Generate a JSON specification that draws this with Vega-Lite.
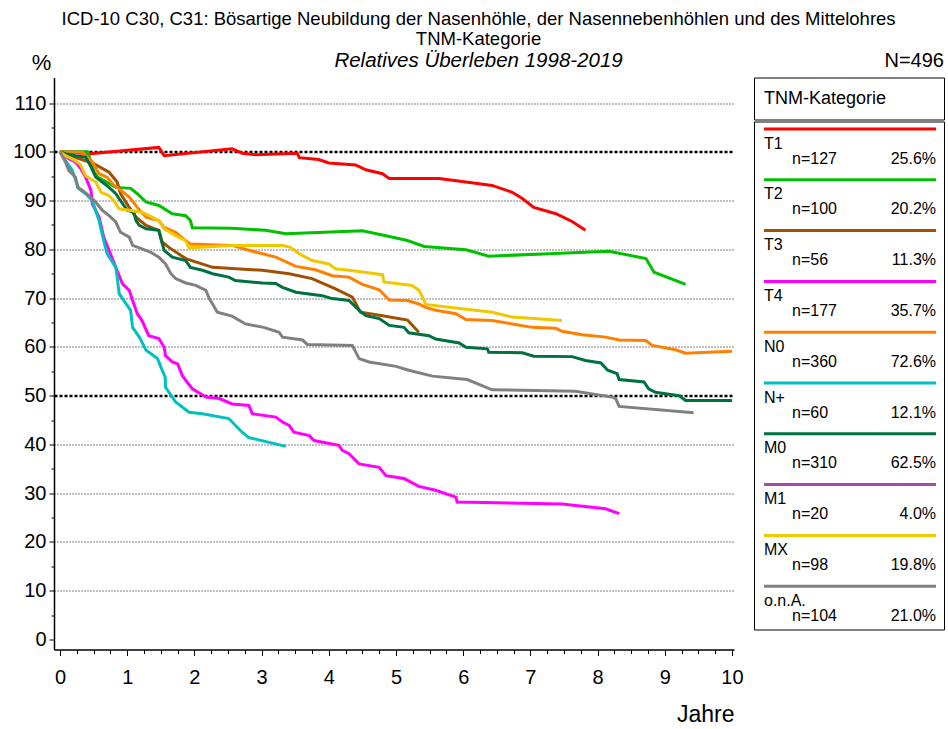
{
  "$schema": "https://vega.github.io/schema/vega-lite/v6.json",
  "padding": {"left": 12, "top": 9.5, "right": 2, "bottom": 2},
  "config": {"font": "Liberation Sans", "view": {"stroke": null}, "text": {"color": "black"}},
  "title": {
    "text": ["ICD-10 C30, C31: Bösartige Neubildung der Nasenhöhle, der Nasennebenhöhlen und des Mittelohres", "TNM-Kategorie"],
    "subtitle": "Relatives Überleben 1998-2019",
    "fontSize": 18.5, "fontWeight": "normal", "color": "black", "lineHeight": 20,
    "subtitleFontSize": 20.5, "subtitleFontStyle": "italic", "subtitleColor": "black", "subtitlePadding": 3,
    "anchor": "middle", "frame": "bounds", "offset": -21
  },
  "bounds": "flush",
  "spacing": 20,
  "datasets": {
    "curves": [
      {"k":"T1","t":0,"s":100},{"k":"T1","t":0.45,"s":99.6},{"k":"T1","t":1.47,"s":100.9},{"k":"T1","t":1.55,"s":99.2},{"k":"T1","t":2.56,"s":100.6},{"k":"T1","t":2.71,"s":99.7},{"k":"T1","t":2.91,"s":99.4},{"k":"T1","t":3.53,"s":99.7},{"k":"T1","t":3.56,"s":98.8},{"k":"T1","t":3.85,"s":98.4},{"k":"T1","t":4.0,"s":97.7},{"k":"T1","t":4.4,"s":97.3},{"k":"T1","t":4.55,"s":96.3},{"k":"T1","t":4.8,"s":95.5},{"k":"T1","t":4.9,"s":94.5},{"k":"T1","t":5.64,"s":94.5},{"k":"T1","t":6.04,"s":93.8},{"k":"T1","t":6.43,"s":93.1},{"k":"T1","t":6.73,"s":91.7},{"k":"T1","t":6.88,"s":90.4},{"k":"T1","t":7.05,"s":88.6},{"k":"T1","t":7.38,"s":87.3},{"k":"T1","t":7.62,"s":85.7},{"k":"T1","t":7.82,"s":83.9},
      {"k":"T2","t":0,"s":100},{"k":"T2","t":0.41,"s":100},{"k":"T2","t":0.51,"s":95.8},{"k":"T2","t":0.56,"s":94.8},{"k":"T2","t":0.83,"s":92.7},{"k":"T2","t":1.05,"s":92.5},{"k":"T2","t":1.15,"s":91.4},{"k":"T2","t":1.28,"s":89.7},{"k":"T2","t":1.47,"s":89.0},{"k":"T2","t":1.67,"s":87.3},{"k":"T2","t":1.87,"s":86.9},{"k":"T2","t":1.94,"s":85.9},{"k":"T2","t":1.97,"s":84.4},{"k":"T2","t":2.56,"s":84.3},{"k":"T2","t":3.06,"s":83.9},{"k":"T2","t":3.36,"s":83.2},{"k":"T2","t":4.5,"s":83.8},{"k":"T2","t":4.85,"s":82.8},{"k":"T2","t":5.17,"s":81.8},{"k":"T2","t":5.42,"s":80.6},{"k":"T2","t":6.04,"s":79.9},{"k":"T2","t":6.38,"s":78.6},{"k":"T2","t":7.28,"s":79.1},{"k":"T2","t":8.17,"s":79.6},{"k":"T2","t":8.72,"s":78.1},{"k":"T2","t":8.84,"s":75.3},{"k":"T2","t":9.31,"s":72.8},
      {"k":"T3","t":0,"s":100},{"k":"T3","t":0.28,"s":98.6},{"k":"T3","t":0.48,"s":97.7},{"k":"T3","t":0.73,"s":95.8},{"k":"T3","t":0.85,"s":93.8},{"k":"T3","t":0.9,"s":91.4},{"k":"T3","t":1.03,"s":88.6},{"k":"T3","t":1.13,"s":86.6},{"k":"T3","t":1.28,"s":84.9},{"k":"T3","t":1.47,"s":83.9},{"k":"T3","t":1.52,"s":81.5},{"k":"T3","t":1.62,"s":80.4},{"k":"T3","t":1.87,"s":78.1},{"k":"T3","t":2.27,"s":76.3},{"k":"T3","t":3.01,"s":75.7},{"k":"T3","t":3.41,"s":75.0},{"k":"T3","t":3.75,"s":74.0},{"k":"T3","t":4.1,"s":71.9},{"k":"T3","t":4.35,"s":70.2},{"k":"T3","t":4.47,"s":67.1},{"k":"T3","t":4.8,"s":66.4},{"k":"T3","t":5.17,"s":65.5},{"k":"T3","t":5.34,"s":63.0},
      {"k":"T4","t":0,"s":100},{"k":"T4","t":0.13,"s":98.6},{"k":"T4","t":0.23,"s":97.9},{"k":"T4","t":0.31,"s":96.5},{"k":"T4","t":0.38,"s":94.8},{"k":"T4","t":0.46,"s":92.1},{"k":"T4","t":0.48,"s":89.3},{"k":"T4","t":0.58,"s":86.6},{"k":"T4","t":0.65,"s":82.5},{"k":"T4","t":0.75,"s":79.1},{"k":"T4","t":0.83,"s":76.3},{"k":"T4","t":0.93,"s":72.9},{"k":"T4","t":1.03,"s":71.6},{"k":"T4","t":1.08,"s":69.5},{"k":"T4","t":1.15,"s":66.8},{"k":"T4","t":1.22,"s":65.4},{"k":"T4","t":1.32,"s":62.3},{"k":"T4","t":1.47,"s":61.7},{"k":"T4","t":1.55,"s":59.9},{"k":"T4","t":1.57,"s":58.2},{"k":"T4","t":1.67,"s":56.9},{"k":"T4","t":1.75,"s":56.5},{"k":"T4","t":1.82,"s":54.1},{"k":"T4","t":1.89,"s":52.8},{"k":"T4","t":1.97,"s":51.4},{"k":"T4","t":2.09,"s":50.4},{"k":"T4","t":2.17,"s":49.7},{"k":"T4","t":2.37,"s":49.4},{"k":"T4","t":2.56,"s":48.3},{"k":"T4","t":2.81,"s":48.0},{"k":"T4","t":2.86,"s":46.3},{"k":"T4","t":3.21,"s":45.6},{"k":"T4","t":3.31,"s":44.6},{"k":"T4","t":3.41,"s":43.9},{"k":"T4","t":3.48,"s":42.5},{"k":"T4","t":3.71,"s":41.8},{"k":"T4","t":3.78,"s":40.8},{"k":"T4","t":4.15,"s":39.8},{"k":"T4","t":4.2,"s":38.8},{"k":"T4","t":4.3,"s":38.1},{"k":"T4","t":4.45,"s":36.0},{"k":"T4","t":4.75,"s":35.3},{"k":"T4","t":4.85,"s":33.6},{"k":"T4","t":5.12,"s":33.0},{"k":"T4","t":5.34,"s":31.4},{"k":"T4","t":5.59,"s":30.6},{"k":"T4","t":5.89,"s":29.2},{"k":"T4","t":5.91,"s":28.2},{"k":"T4","t":7.47,"s":27.8},{"k":"T4","t":8.12,"s":26.8},{"k":"T4","t":8.32,"s":25.8},
      {"k":"N0","t":0,"s":100},{"k":"N0","t":0.33,"s":99.9},{"k":"N0","t":0.48,"s":97.9},{"k":"N0","t":0.58,"s":95.5},{"k":"N0","t":0.7,"s":94.8},{"k":"N0","t":0.78,"s":93.4},{"k":"N0","t":0.88,"s":92.4},{"k":"N0","t":1.03,"s":90.7},{"k":"N0","t":1.15,"s":88.6},{"k":"N0","t":1.28,"s":86.6},{"k":"N0","t":1.47,"s":85.9},{"k":"N0","t":1.55,"s":84.5},{"k":"N0","t":1.72,"s":83.5},{"k":"N0","t":1.87,"s":81.8},{"k":"N0","t":1.94,"s":81.1},{"k":"N0","t":2.56,"s":80.8},{"k":"N0","t":2.81,"s":79.8},{"k":"N0","t":3.21,"s":78.4},{"k":"N0","t":3.51,"s":76.5},{"k":"N0","t":3.8,"s":75.8},{"k":"N0","t":4.05,"s":74.6},{"k":"N0","t":4.3,"s":74.3},{"k":"N0","t":4.5,"s":72.8},{"k":"N0","t":4.75,"s":71.7},{"k":"N0","t":4.9,"s":69.6},{"k":"N0","t":5.17,"s":69.5},{"k":"N0","t":5.34,"s":68.8},{"k":"N0","t":5.44,"s":68.1},{"k":"N0","t":5.59,"s":67.5},{"k":"N0","t":5.89,"s":66.8},{"k":"N0","t":6.04,"s":65.6},{"k":"N0","t":6.43,"s":65.4},{"k":"N0","t":6.73,"s":64.7},{"k":"N0","t":7.03,"s":64.0},{"k":"N0","t":7.38,"s":63.8},{"k":"N0","t":7.47,"s":63.2},{"k":"N0","t":7.77,"s":62.5},{"k":"N0","t":8.12,"s":62.0},{"k":"N0","t":8.32,"s":61.4},{"k":"N0","t":8.72,"s":61.3},{"k":"N0","t":8.81,"s":60.3},{"k":"N0","t":9.16,"s":59.4},{"k":"N0","t":9.31,"s":58.7},{"k":"N0","t":10.0,"s":59.1},
      {"k":"N+","t":0,"s":100},{"k":"N+","t":0.08,"s":98.2},{"k":"N+","t":0.18,"s":96.2},{"k":"N+","t":0.28,"s":92.4},{"k":"N+","t":0.38,"s":91.4},{"k":"N+","t":0.48,"s":90.0},{"k":"N+","t":0.58,"s":85.9},{"k":"N+","t":0.65,"s":81.8},{"k":"N+","t":0.7,"s":79.1},{"k":"N+","t":0.83,"s":76.3},{"k":"N+","t":0.85,"s":74.3},{"k":"N+","t":0.88,"s":70.9},{"k":"N+","t":0.95,"s":69.5},{"k":"N+","t":1.05,"s":67.5},{"k":"N+","t":1.08,"s":64.0},{"k":"N+","t":1.18,"s":62.0},{"k":"N+","t":1.28,"s":59.3},{"k":"N+","t":1.45,"s":57.6},{"k":"N+","t":1.52,"s":55.2},{"k":"N+","t":1.565,"s":53.8},{"k":"N+","t":1.57,"s":51.7},{"k":"N+","t":1.72,"s":48.7},{"k":"N+","t":1.92,"s":46.6},{"k":"N+","t":2.12,"s":46.3},{"k":"N+","t":2.51,"s":45.3},{"k":"N+","t":2.71,"s":42.5},{"k":"N+","t":2.81,"s":41.4},{"k":"N+","t":3.36,"s":39.6},
      {"k":"M0","t":0,"s":100},{"k":"M0","t":0.08,"s":99.6},{"k":"M0","t":0.23,"s":99.2},{"k":"M0","t":0.38,"s":98.9},{"k":"M0","t":0.46,"s":96.9},{"k":"M0","t":0.53,"s":94.8},{"k":"M0","t":0.73,"s":92.7},{"k":"M0","t":0.83,"s":91.4},{"k":"M0","t":0.9,"s":90.0},{"k":"M0","t":1.0,"s":88.0},{"k":"M0","t":1.1,"s":87.6},{"k":"M0","t":1.13,"s":85.9},{"k":"M0","t":1.18,"s":84.9},{"k":"M0","t":1.28,"s":84.2},{"k":"M0","t":1.47,"s":83.9},{"k":"M0","t":1.5,"s":82.2},{"k":"M0","t":1.55,"s":79.8},{"k":"M0","t":1.67,"s":78.4},{"k":"M0","t":1.87,"s":77.7},{"k":"M0","t":1.94,"s":76.3},{"k":"M0","t":2.12,"s":75.7},{"k":"M0","t":2.27,"s":75.0},{"k":"M0","t":2.51,"s":74.3},{"k":"M0","t":2.61,"s":73.6},{"k":"M0","t":3.01,"s":73.1},{"k":"M0","t":3.21,"s":73.0},{"k":"M0","t":3.31,"s":72.2},{"k":"M0","t":3.51,"s":71.2},{"k":"M0","t":3.9,"s":70.5},{"k":"M0","t":4.05,"s":69.9},{"k":"M0","t":4.3,"s":69.5},{"k":"M0","t":4.45,"s":67.5},{"k":"M0","t":4.55,"s":66.4},{"k":"M0","t":4.75,"s":65.8},{"k":"M0","t":4.9,"s":64.4},{"k":"M0","t":5.12,"s":64.0},{"k":"M0","t":5.19,"s":62.9},{"k":"M0","t":5.49,"s":62.3},{"k":"M0","t":5.59,"s":61.6},{"k":"M0","t":5.94,"s":60.8},{"k":"M0","t":6.04,"s":59.9},{"k":"M0","t":6.36,"s":59.6},{"k":"M0","t":6.38,"s":58.9},{"k":"M0","t":6.88,"s":58.8},{"k":"M0","t":7.05,"s":58.1},{"k":"M0","t":7.62,"s":58.0},{"k":"M0","t":7.82,"s":57.2},{"k":"M0","t":8.05,"s":56.7},{"k":"M0","t":8.15,"s":55.2},{"k":"M0","t":8.29,"s":54.5},{"k":"M0","t":8.32,"s":53.3},{"k":"M0","t":8.69,"s":52.8},{"k":"M0","t":8.76,"s":51.4},{"k":"M0","t":8.86,"s":50.7},{"k":"M0","t":9.21,"s":50.0},{"k":"M0","t":9.31,"s":49.0},{"k":"M0","t":10.0,"s":49.0},
      {"k":"MX","t":0,"s":100},{"k":"MX","t":0.08,"s":99.2},{"k":"MX","t":0.23,"s":98.2},{"k":"MX","t":0.31,"s":97.2},{"k":"MX","t":0.38,"s":95.1},{"k":"MX","t":0.53,"s":93.8},{"k":"MX","t":0.61,"s":91.7},{"k":"MX","t":0.73,"s":91.0},{"k":"MX","t":0.8,"s":90.0},{"k":"MX","t":0.88,"s":88.3},{"k":"MX","t":1.03,"s":88.0},{"k":"MX","t":1.22,"s":87.6},{"k":"MX","t":1.37,"s":86.6},{"k":"MX","t":1.47,"s":85.9},{"k":"MX","t":1.55,"s":84.2},{"k":"MX","t":1.72,"s":82.8},{"k":"MX","t":1.87,"s":81.8},{"k":"MX","t":1.92,"s":80.3},{"k":"MX","t":2.56,"s":80.8},{"k":"MX","t":3.31,"s":80.8},{"k":"MX","t":3.43,"s":80.4},{"k":"MX","t":3.56,"s":79.1},{"k":"MX","t":3.75,"s":77.7},{"k":"MX","t":4.0,"s":77.0},{"k":"MX","t":4.1,"s":76.0},{"k":"MX","t":4.3,"s":75.7},{"k":"MX","t":4.8,"s":74.8},{"k":"MX","t":4.82,"s":73.3},{"k":"MX","t":5.24,"s":72.6},{"k":"MX","t":5.34,"s":71.6},{"k":"MX","t":5.42,"s":69.5},{"k":"MX","t":5.44,"s":68.7},{"k":"MX","t":5.79,"s":68.1},{"k":"MX","t":6.43,"s":67.1},{"k":"MX","t":6.73,"s":66.1},{"k":"MX","t":7.47,"s":65.4},
      {"k":"o.n.A.","t":0,"s":100},{"k":"o.n.A.","t":0.08,"s":97.9},{"k":"o.n.A.","t":0.13,"s":96.2},{"k":"o.n.A.","t":0.23,"s":94.8},{"k":"o.n.A.","t":0.26,"s":92.7},{"k":"o.n.A.","t":0.33,"s":92.1},{"k":"o.n.A.","t":0.43,"s":91.0},{"k":"o.n.A.","t":0.51,"s":90.0},{"k":"o.n.A.","t":0.63,"s":88.0},{"k":"o.n.A.","t":0.73,"s":86.9},{"k":"o.n.A.","t":0.83,"s":85.6},{"k":"o.n.A.","t":0.9,"s":83.5},{"k":"o.n.A.","t":1.03,"s":82.5},{"k":"o.n.A.","t":1.08,"s":80.8},{"k":"o.n.A.","t":1.22,"s":80.1},{"k":"o.n.A.","t":1.35,"s":79.4},{"k":"o.n.A.","t":1.47,"s":78.4},{"k":"o.n.A.","t":1.57,"s":77.0},{"k":"o.n.A.","t":1.65,"s":75.0},{"k":"o.n.A.","t":1.72,"s":74.0},{"k":"o.n.A.","t":1.87,"s":73.1},{"k":"o.n.A.","t":2.02,"s":72.6},{"k":"o.n.A.","t":2.17,"s":71.6},{"k":"o.n.A.","t":2.22,"s":69.9},{"k":"o.n.A.","t":2.27,"s":68.8},{"k":"o.n.A.","t":2.34,"s":67.1},{"k":"o.n.A.","t":2.56,"s":66.3},{"k":"o.n.A.","t":2.76,"s":64.7},{"k":"o.n.A.","t":3.03,"s":64.0},{"k":"o.n.A.","t":3.26,"s":63.0},{"k":"o.n.A.","t":3.31,"s":62.0},{"k":"o.n.A.","t":3.61,"s":61.4},{"k":"o.n.A.","t":3.68,"s":60.5},{"k":"o.n.A.","t":4.35,"s":60.3},{"k":"o.n.A.","t":4.45,"s":57.6},{"k":"o.n.A.","t":4.6,"s":56.9},{"k":"o.n.A.","t":5.0,"s":56.0},{"k":"o.n.A.","t":5.19,"s":55.2},{"k":"o.n.A.","t":5.54,"s":54.0},{"k":"o.n.A.","t":6.06,"s":53.3},{"k":"o.n.A.","t":6.43,"s":51.2},{"k":"o.n.A.","t":7.67,"s":50.9},{"k":"o.n.A.","t":8.22,"s":49.7},{"k":"o.n.A.","t":8.27,"s":49.4},{"k":"o.n.A.","t":8.32,"s":47.8},{"k":"o.n.A.","t":9.43,"s":46.5}
    ],
    "legend": [
      {"cat":"T1","n":127,"pct":25.6},{"cat":"T2","n":100,"pct":20.2},{"cat":"T3","n":56,"pct":11.3},{"cat":"T4","n":177,"pct":35.7},{"cat":"N0","n":360,"pct":72.6},{"cat":"N+","n":60,"pct":12.1},{"cat":"M0","n":310,"pct":62.5},{"cat":"M1","n":20,"pct":4.0},{"cat":"MX","n":98,"pct":19.8},{"cat":"o.n.A.","n":104,"pct":21.0}
    ]
  },
  "hconcat": [
    {
      "width": 680, "height": 572,
      "data": {"name": "curves"},
      "mark": {"type": "line", "strokeWidth": 3, "interpolate": "linear"},
      "encoding": {
        "x": {"field": "t", "type": "quantitative",
          "scale": {"domain": [-0.09, 10.03], "nice": false, "zero": false},
          "axis": {
            "values": [0,0.25,0.5,0.75,1,1.25,1.5,1.75,2,2.25,2.5,2.75,3,3.25,3.5,3.75,4,4.25,4.5,4.75,5,5.25,5.5,5.75,6,6.25,6.5,6.75,7,7.25,7.5,7.75,8,8.25,8.5,8.75,9,9.25,9.5,9.75,10],
            "labelExpr": "datum.value % 1 === 0 ? datum.value : ''",
            "labelOverlap": false, "labelFlush": false,
            "labelFontSize": 20, "labelColor": "black", "labelPadding": 12,
            "tickSize": {"condition": {"test": "datum.value % 1 === 0", "value": 6}, "value": 4},
            "tickColor": "black", "domainColor": "black", "domainWidth": 1.5, "grid": false,
            "title": "Jahre", "titleFontSize": 23, "titleFontWeight": "normal", "titleColor": "black",
            "titleAnchor": "end", "titlePadding": 16
          }},
        "y": {"field": "s", "type": "quantitative",
          "scale": {"domain": [-2.05, 115.23], "nice": false, "zero": false},
          "axis": {
            "values": [0,5,10,15,20,25,30,35,40,45,50,55,60,65,70,75,80,85,90,95,100,105,110],
            "labelExpr": "datum.value % 10 === 0 ? datum.value : ''",
            "labelOverlap": false, "labelFlush": false,
            "labelFontSize": 20, "labelColor": "black", "labelPadding": 3,
            "tickSize": {"condition": {"test": "datum.value % 10 === 0", "value": 5}, "value": 3},
            "tickColor": "black", "domainColor": "black", "domainWidth": 1.5,
            "grid": true, "gridColor": "black",
            "gridOpacity": {"condition": {"test": "datum.value % 10 === 0 && datum.value > 0", "value": 1}, "value": 0},
            "gridDash": {"condition": {"test": "datum.value === 50 || datum.value === 100", "value": [3, 2]}, "value": [1, 2]},
            "gridWidth": {"condition": {"test": "datum.value === 50 || datum.value === 100", "value": 2.5}, "value": 1},
            "title": "%", "titleAngle": 0, "titleX": -13, "titleY": -8, "titleFontSize": 22,
            "titleFontWeight": "normal", "titleColor": "black", "titleAlign": "center", "titleBaseline": "alphabetic"
          }},
        "color": {"field": "k", "type": "nominal",
          "scale": {"domain": ["T1","T2","T3","T4","N0","N+","M0","M1","MX","o.n.A."],
                    "range": ["#FF0000","#00C000","#A05000","#FF00FF","#FF8000","#00C0C0","#007040","#A050A0","#F0C800","#808080"]},
          "legend": null}
      }
    },
    {
      "spacing": 0,
      "vconcat": [
        {
          "width": 190, "height": 42,
          "title": {"text": "N=496", "anchor": "end", "fontSize": 20, "fontWeight": "normal", "color": "black", "offset": 6.5, "frame": "group"},
          "view": {"stroke": "black", "strokeWidth": 1},
          "data": {"values": [{"label": "TNM-Kategorie"}]},
          "mark": {"type": "text", "align": "left", "baseline": "middle", "dx": -85, "fontSize": 18, "color": "black"},
          "encoding": {"text": {"field": "label"}}
        },
        {
          "width": 190, "height": 508,
          "view": {"stroke": "black", "strokeWidth": 1},
          "data": {"name": "legend"},
          "encoding": {
            "y": {"field": "cat", "type": "nominal", "bandPosition": 0,
              "scale": {"type": "band", "domain": ["T1","T2","T3","T4","N0","N+","M0","M1","MX","o.n.A."], "paddingInner": 0, "paddingOuter": 0},
              "axis": null}
          },
          "layer": [
            {
              "mark": {"type": "rule", "strokeWidth": 3, "yOffset": 7.5},
              "encoding": {
                "x": {"datum": 0.0526, "type": "quantitative", "scale": {"domain": [0, 1], "nice": false}, "axis": null},
                "x2": {"datum": 0.958},
                "color": {"field": "cat", "type": "nominal",
                  "scale": {"domain": ["T1","T2","T3","T4","N0","N+","M0","M1","MX","o.n.A."],
                            "range": ["#FF0000","#00C000","#A05000","#FF00FF","#FF8000","#00C0C0","#007040","#A050A0","#F0C800","#808080"]},
                  "legend": null}
              }
            },
            {
              "mark": {"type": "text", "align": "left", "baseline": "middle", "yOffset": 22, "fontSize": 16, "color": "black"},
              "encoding": {"x": {"datum": 0.0526, "type": "quantitative"}, "text": {"field": "cat"}}
            },
            {
              "mark": {"type": "text", "align": "left", "baseline": "middle", "yOffset": 37, "fontSize": 16, "color": "black", "text": {"expr": "'n=' + datum.n"}},
              "encoding": {"x": {"datum": 0.2, "type": "quantitative"}}
            },
            {
              "mark": {"type": "text", "align": "right", "baseline": "middle", "yOffset": 37, "fontSize": 16, "color": "black", "text": {"expr": "format(datum.pct, '.1f') + '%'"}},
              "encoding": {"x": {"datum": 0.958, "type": "quantitative"}}
            }
          ]
        }
      ]
    }
  ]
}
